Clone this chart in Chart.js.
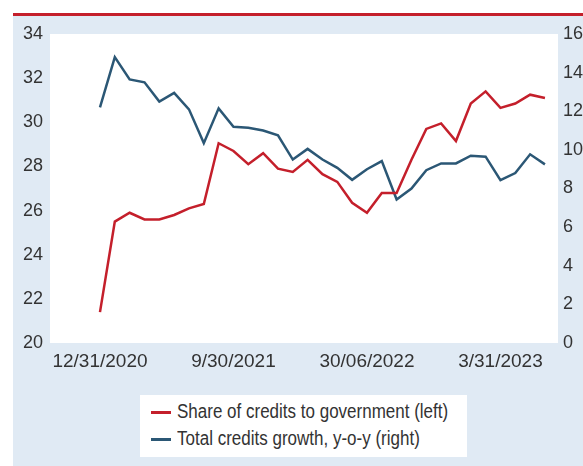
<!DOCTYPE html>
<html>
<head>
<meta charset="utf-8">
<script src="https://cdn.jsdelivr.net/npm/chart.js@4"></script>
<style>
  html, body { margin: 0; padding: 0; background: #fff; }
  #wrap { position: relative; width: 583px; height: 466px; overflow: hidden; }
  #topline { position: absolute; left: 13px; top: 13px; width: 570px; height: 3px; background: #c41f2b; }
  #panel { position: absolute; left: 13px; top: 16px; width: 570px; height: 450px; background: #e0eaf4; }
  #chart { position: absolute; left: 0; top: 0; }
  #legend { position: absolute; left: 140px; top: 395px; width: 327px; height: 62px; background: #fff;
    font-family: 'Liberation Sans', Arial, sans-serif; font-size: 20px; color: #333; }
  .item { position: absolute; left: 11px; height: 24px; line-height: 24px; white-space: nowrap; }
  .item span.swatch { display: inline-block; width: 20px; height: 3px; vertical-align: middle; margin-right: 6px; }
  .item span.txt { display: inline-block; transform: scaleX(0.85); transform-origin: left center; }
</style>
</head>
<body>
<div id="wrap">
  <div id="topline"></div>
  <div id="panel"></div>
  <canvas id="chart" width="583" height="466"></canvas>
  <div id="legend">
    <div class="item" style="top:4px"><span class="swatch" style="background:#c41f2b"></span><span class="txt">Share of credits to government (left)</span></div>
    <div class="item" style="top:31px"><span class="swatch" style="background:#2b5775"></span><span class="txt">Total credits growth, y-o-y (right)</span></div>
  </div>
</div>
<script>
// monthly, Dec 2020 .. Jun 2023
const months = ['2020-12','2021-01','2021-02','2021-03','2021-04','2021-05','2021-06','2021-07','2021-08','2021-09',
  '2021-10','2021-11','2021-12','2022-01','2022-02','2022-03','2022-04','2022-05','2022-06','2022-07',
  '2022-08','2022-09','2022-10','2022-11','2022-12','2023-01','2023-02','2023-03','2023-04','2023-05','2023-06']

const govShare = [21.4, 25.5, 25.9, 25.6, 25.6, 25.8, 26.1, 26.3, 29.05, 28.7,
  28.1, 28.6, 27.9, 27.75, 28.3, 27.65, 27.3, 26.35, 25.9, 26.8,
  26.8, 28.3, 29.7, 29.95, 29.15, 30.85, 31.4, 30.65, 30.85, 31.25, 31.1]

const creditGrowth = [12.2, 14.8, 13.65, 13.5, 12.5, 12.95, 12.1, 10.35, 12.15, 11.2,
  11.15, 11.0, 10.75, 9.5, 10.05, 9.5, 9.07, 8.45, 9.0, 9.42,
  7.43, 8.0, 8.95, 9.3, 9.3, 9.7, 9.65, 8.43, 8.8, 9.77, 9.25]

const xTickIdx = [0, 9, 18, 27]
const xTickLabels = ['12/31/2020', '9/30/2021', '30/06/2022', '3/31/2023']

const plotBg = {
  id: 'plotBg',
  beforeDraw(chart) {
    const a = chart.chartArea, ctx = chart.ctx
    ctx.save()
    ctx.fillStyle = '#fff'
    ctx.fillRect(a.left, a.top, a.right - a.left, a.bottom - a.top)
    ctx.restore()
  }
}

const tickFont = { family: "'Liberation Sans', Arial, sans-serif", size: 18 }
const noGrid = { display: false, drawTicks: false }

new Chart(document.getElementById('chart'), {
  type: 'line',
  data: {
    datasets: [
      {
        label: 'Share of credits to government (left)',
        data: govShare.map((v, i) => ({ x: i, y: v })),
        borderColor: '#c41f2b',
        borderWidth: 2.5,
        pointRadius: 0,
        tension: 0,
        yAxisID: 'yL'
      },
      {
        label: 'Total credits growth, y-o-y (right)',
        data: creditGrowth.map((v, i) => ({ x: i, y: v })),
        borderColor: '#2b5775',
        borderWidth: 2.5,
        pointRadius: 0,
        tension: 0,
        yAxisID: 'yR'
      }
    ]
  },
  plugins: [plotBg],
  options: {
    responsive: false,
    animation: false,
    layout: { padding: { top: 34, left: 0, right: 0, bottom: 0 } },
    plugins: { legend: { display: false }, tooltip: { enabled: false } },
    scales: {
      x: {
        type: 'linear',
        min: -3.37,
        max: 30.88,
        grid: noGrid,
        border: { display: false },
        afterBuildTicks: s => { s.ticks = xTickIdx.map(v => ({ value: v })) },
        afterFit: s => { s.height = 123 },
        ticks: {
          color: '#333',
          font: { family: tickFont.family, size: 19 },
          padding: 7,
          maxRotation: 0,
          autoSkip: false,
          callback: v => xTickLabels[xTickIdx.indexOf(v)]
        }
      },
      yL: {
        position: 'left',
        min: 20, max: 34,
        grid: noGrid,
        border: { display: false },
        afterFit: s => { s.width = 50 },
        ticks: { stepSize: 2, color: '#333', font: tickFont, padding: 7 }
      },
      yR: {
        position: 'right',
        min: 0, max: 16,
        grid: noGrid,
        border: { display: false },
        afterFit: s => { s.width = 25 },
        ticks: { stepSize: 2, color: '#333', font: tickFont, padding: 5 }
      }
    }
  }
})
</script>
</body>
</html>
